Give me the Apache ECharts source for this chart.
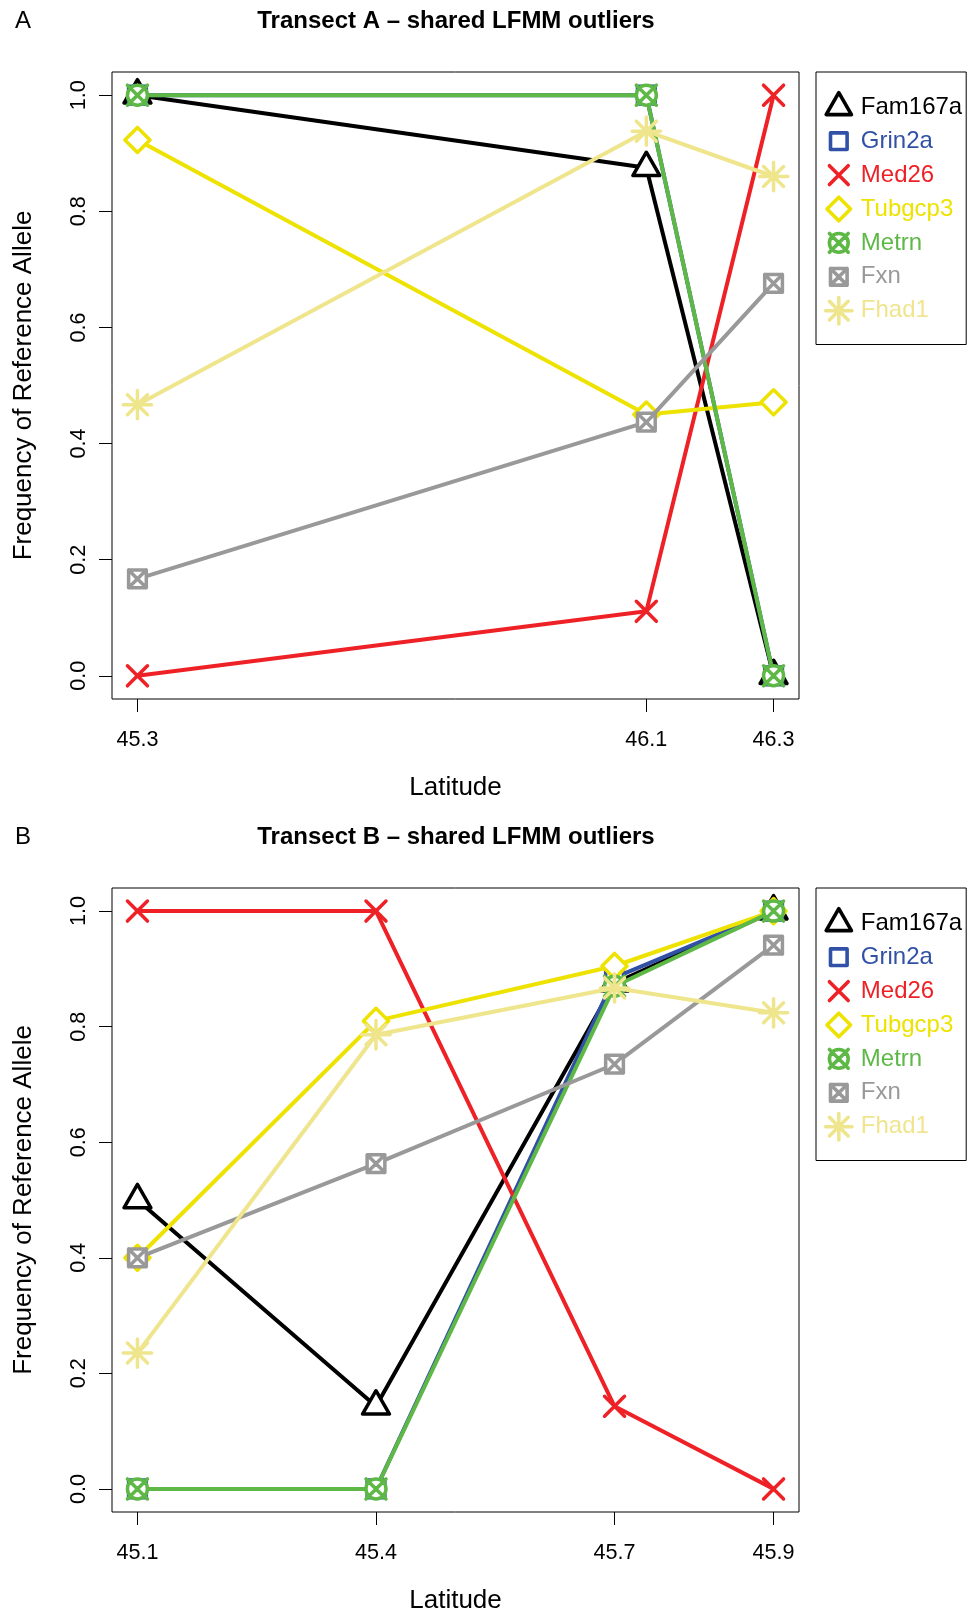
<!DOCTYPE html>
<html><head><meta charset="utf-8">
<script src="https://cdn.jsdelivr.net/npm/echarts@6/dist/echarts.min.js"></script>
<style>html,body{margin:0;padding:0;background:#fff}#c{width:968px;height:1615px}</style>
</head><body><div id="c"></div>
<script>
// ---- data ----
const genes = ['Fam167a', 'Grin2a', 'Med26', 'Tubgcp3', 'Metrn', 'Fxn', 'Fhad1'];
const colors = ['#000000', '#3151A6', '#EE2226', '#EEE200', '#5DB846', '#999999', '#EFE58C'];
const latA = [45.3, 46.1, 46.3];
const latB = [45.1, 45.4, 45.7, 45.9];
const yTicks = [0, 0.2, 0.4, 0.6, 0.8, 1.0];

const A_Fam167a = [1.000, 0.875, 0.000];
const A_Grin2a  = [1.000, 1.000, 0.000];
const A_Med26   = [0.000, 0.111, 1.000];
const A_Tubgcp3 = [0.923, 0.450, 0.471];
const A_Metrn   = [1.000, 1.000, 0.000];
const A_Fxn     = [0.167, 0.437, 0.676];
const A_Fhad1   = [0.467, 0.938, 0.860];

const B_Fam167a = [0.500, 0.143, 0.875, 1.000];
const B_Grin2a  = [0.000, 0.000, 0.885, 1.000];
const B_Med26   = [1.000, 1.000, 0.143, 0.000];
const B_Tubgcp3 = [0.400, 0.810, 0.905, 1.000];
const B_Metrn   = [0.000, 0.000, 0.870, 1.000];
const B_Fxn     = [0.400, 0.563, 0.735, 0.941];
const B_Fhad1   = [0.235, 0.786, 0.867, 0.824];

const valuesA = [A_Fam167a, A_Grin2a, A_Med26, A_Tubgcp3, A_Metrn, A_Fxn, A_Fhad1];
const valuesB = [B_Fam167a, B_Grin2a, B_Med26, B_Tubgcp3, B_Metrn, B_Fxn, B_Fhad1];

// ---- marker shapes (R pch 2,0,4,5,13,7,8), centred on the data point ----
const FRAME = 'M-160,-160 M160,160 ';
const shapes = [
  FRAME + 'M0,-155.5 L134.7,77.8 L-134.7,77.8 Z',
  FRAME + 'M-88.6,-88.6 L88.6,-88.6 L88.6,88.6 L-88.6,88.6 Z',
  FRAME + 'M-100,-100 L100,100 M100,-100 L-100,100',
  FRAME + 'M0,-125.3 L125.3,0 L0,125.3 L-125.3,0 Z',
  FRAME + 'M-100,0 A100,100 0 1,1 100,0 A100,100 0 1,1 -100,0 Z M-100,-100 L100,100 M100,-100 L-100,100',
  FRAME + 'M-88.6,-88.6 L88.6,-88.6 L88.6,88.6 L-88.6,88.6 Z M-88.6,-88.6 L88.6,88.6 M88.6,-88.6 L-88.6,88.6',
  FRAME + 'M0,-141.4 L0,141.4 M-141.4,0 L141.4,0 M-100,-100 L100,100 M100,-100 L-100,100'
].map(s => 'path://' + s);

const FONT = "'Liberation Sans', Arial, Helvetica, sans-serif";
const chart = echarts.init(document.getElementById('c'), null, {renderer: 'canvas'});

const grids = [
  {left: 112, top: 72, width: 687, height: 627},
  {left: 112, top: 888, width: 687, height: 627}
];

function xAxisFor(idx, ticks, min, max) {
  return {
    gridIndex: idx, type: 'value', min: min, max: max, position: 'bottom',
    axisLine: {show: false, onZero: false},
    axisTick: {show: true, inside: false, length: 13, customValues: ticks, lineStyle: {color: '#000', width: 1}},
    axisLabel: {customValues: ticks, formatter: v => v.toFixed(1), fontSize: 21.6, color: '#000', fontFamily: FONT, margin: 30},
    splitLine: {show: false},
    name: 'Latitude', nameLocation: 'middle', nameGap: 76,
    nameTextStyle: {fontSize: 26, color: '#000', fontFamily: FONT}
  };
}
function yAxisFor(idx) {
  return {
    gridIndex: idx, type: 'value', min: -0.04, max: 1.04, position: 'left',
    axisLine: {show: false, onZero: false},
    axisTick: {show: true, inside: false, length: 13, customValues: yTicks, lineStyle: {color: '#000', width: 1}},
    axisLabel: {customValues: yTicks, formatter: v => v.toFixed(1), fontSize: 21.6, color: '#000', fontFamily: FONT, margin: 22, rotate: 90},
    splitLine: {show: false},
    name: 'Frequency of Reference Allele', nameLocation: 'middle', nameGap: 75,
    nameTextStyle: {fontSize: 26, color: '#000', fontFamily: FONT}
  };
}

const series = [];
function addSeries(idx, lats, vals) {
  genes.forEach((g, i) => {
    series.push({
      type: 'line', name: g, xAxisIndex: idx, yAxisIndex: idx,
      data: lats.map((x, j) => [x, vals[i][j]]),
      symbol: shapes[i], symbolSize: 32,
      lineStyle: {color: colors[i], width: 4, cap: 'round', join: 'round'},
      itemStyle: {color: '#ffffff', borderColor: colors[i], borderWidth: 3.5, borderCap: 'round', borderJoin: 'round'},
      z: 2 + i, silent: true, animation: false,
      emphasis: {disabled: true}
    });
  });
}
addSeries(0, latA, valuesA);
addSeries(1, latB, valuesB);

function legendFor(top) {
  return {
    orient: 'vertical', left: 816, top: top,
    itemWidth: 30, itemHeight: 35, itemGap: 0.3,
    padding: [18.5, 4, 17, 6],
    borderColor: '#000', borderWidth: 1, backgroundColor: '#fff',
    selectedMode: false,
    itemStyle: {borderWidth: 3.6},
    lineStyle: {width: 0, opacity: 0},
    textStyle: {fontSize: 24, lineHeight: 26, fontFamily: FONT, padding: [0, 0, 0, 2]},
    data: genes.map((g, i) => ({
      name: g, icon: shapes[i],
      itemStyle: {color: '#ffffff', borderColor: colors[i], borderWidth: 3.6, borderCap: 'round', borderJoin: 'round'},
      textStyle: {color: colors[i], fontSize: 24, lineHeight: 26, fontFamily: FONT}
    }))
  };
}

function text(x, y, t, size, weight) {
  return {type: 'text', x: x, y: y, silent: true,
    style: {text: t, fill: '#000', font: (weight || 'normal') + ' ' + size + 'px ' + FONT, align: 'center', verticalAlign: 'middle'}};
}

chart.setOption({
  animation: false,
  backgroundColor: '#fff',
  textStyle: {fontFamily: FONT},
  grid: grids.map(g => Object.assign({show: true, borderColor: '#000', borderWidth: 1, backgroundColor: 'transparent', containLabel: false}, g)),
  xAxis: [xAxisFor(0, latA, 45.26, 46.34), xAxisFor(1, latB, 45.068, 45.932)],
  yAxis: [yAxisFor(0), yAxisFor(1)],
  legend: [legendFor(72), legendFor(888)],
  series: series,
  graphic: [
    text(23, 21, 'A', 24),
    text(456, 21, 'Transect A \u2013 shared LFMM outliers', 24, 'bold'),
    text(23, 837, 'B', 24),
    text(456, 837, 'Transect B \u2013 shared LFMM outliers', 24, 'bold')
  ]
});
</script></body></html>
